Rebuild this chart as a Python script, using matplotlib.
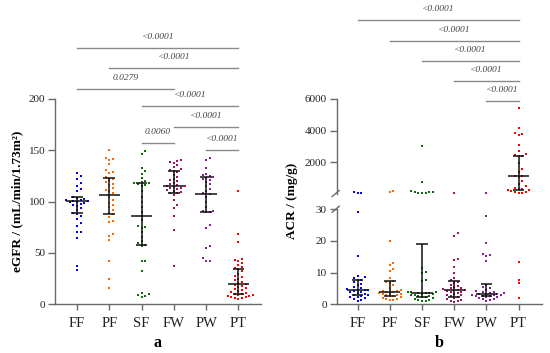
import numpy as np
import matplotlib
matplotlib.use('Agg')
import matplotlib.pyplot as plt
from matplotlib.lines import Line2D

plt.rcParams['font.family'] = ['Liberation Serif', 'DejaVu Serif']

groups = ['FF', 'PF', 'SF', 'FW', 'PW', 'PT']
colors = ['#0000ff', '#ff6a00', '#0a6e0a', '#a3135c', '#8a1c9a', '#ff0000']

# eGFR values per group
egfr_ff = [128, 125, 122, 118, 115, 112, 110, 105, 104, 103, 102, 102, 101, 101, 100, 100, 99, 98, 97, 96,
           94, 92, 89, 88, 86, 83, 79, 76, 70, 70, 65, 37, 33]
egfr_pf = [150, 143, 142, 141, 137, 131, 129, 128, 124, 122, 121, 119, 117, 116, 113, 111, 110, 108, 105, 102,
           99, 97, 95, 92, 89, 88, 85, 81, 80, 68, 67, 63, 42, 25, 16]
egfr_sf = [149, 146, 133, 130, 127, 123, 120, 119, 118, 118, 117, 116, 115, 110, 105, 100, 95, 90, 86, 82,
           76, 75, 74, 70, 66, 62, 60, 58, 57, 42, 42, 32, 11, 10, 9, 8, 7]
egfr_fw = [141, 140, 139, 138, 136, 134, 132, 131, 130, 129, 126, 124, 122, 121, 120, 118, 117, 116, 115, 115,
           114, 113, 113, 112, 111, 110, 109, 108, 108, 106, 102, 97, 94, 86, 72, 37]
egfr_pw = [143, 141, 133, 127, 126, 125, 124, 123, 122, 121, 119, 117, 115, 112, 110, 108, 107, 105, 100, 95,
           91, 91, 90, 90, 77, 74, 57, 55, 45, 42, 42]
egfr_pt = [110, 68, 61, 44, 43, 42, 40, 38, 36, 35, 34, 32, 30, 28, 27, 25, 24, 22, 21, 20,
           19, 18, 17, 16, 15, 14, 13, 12, 11, 10, 10, 9, 9, 8, 8, 7, 7, 6, 6, 5]
egfr_med = [101, 106, 86, 115.5, 107, 19.5]
egfr_q1 = [89, 88, 58, 108, 90, 10]
egfr_q3 = [105, 123, 118, 130, 124, 34.5]

# ACR values per group
acr_ff = [100, 85, 70, 29, 15.3, 8.8, 8.5, 8.2, 7.8, 7.6, 7, 6.5, 6, 5.5, 5, 4.8, 4.6, 4.5, 4.4, 4.2,
          4, 3.8, 3.5, 3.2, 3, 2.8, 2.6, 2.4, 2.2, 2, 1.8, 1.5, 1.2]
acr_pf = [200, 150, 20, 13, 12.3, 11.3, 10.5, 8.2, 7.5, 7, 6.6, 6, 5, 4.6, 4.3, 4.1, 3.9, 3.8, 3.7, 3.6,
          3.4, 3.2, 3, 2.8, 2.7, 2.5, 2.3, 2, 1.8, 1.6, 1.4, 1.3]
acr_sf = [3050, 770, 200, 130, 110, 100, 90, 80, 70, 11.4, 10.3, 10, 7.7, 7.5, 4, 3.9, 3.8, 3.7, 3.6, 3.5,
          3.4, 3.2, 3, 2.8, 2.6, 2.5, 2.4, 2.2, 2, 1.8, 1.5, 1.3, 1.1, 1.0]
acr_fw = [75, 22.4, 21.5, 14.3, 14, 11.7, 9.8, 8.2, 7.6, 7, 6.6, 6.2, 5.8, 5.5, 5.2, 5, 4.8, 4.6, 4.5, 4.4,
          4.2, 4, 3.8, 3.5, 3.2, 3, 2.8, 2.5, 2.3, 2, 1.8, 1.5, 1.2, 1, 0.8]
acr_pw = [45, 28, 19.5, 16, 15.5, 15.2, 13.8, 6.2, 5.6, 5, 4.6, 4.2, 4, 3.8, 3.6, 3.5, 3.4, 3.3, 3.2, 3,
          2.9, 2.8, 2.7, 2.6, 2.5, 2.3, 2.2, 2, 1.8, 1.6, 1.4, 1.2]
acr_pt = [5400, 4150, 3850, 3780, 3720, 3100, 2700, 2550, 2450, 2420, 2380, 1950, 1550, 1400, 1150, 1120,
          1080, 800, 650, 480, 360, 330, 300, 260, 220, 180, 140, 100, 70, 50, 13.4, 7.7, 6.6, 1.9]
acr_med = [4.5, 3.8, 3.6, 4.5, 3.4, 1120]
acr_q1 = [2.8, 2.7, 2.4, 2.3, 2.5, 220]
acr_q3 = [7.7, 7.3, 18.9, 7.5, 6.3, 2420]

# significance comparisons: (group i, group j, p text)
egfr_pairs = [(0, 5, '<0.0001'), (1, 5, '<0.0001'), (0, 3, '0.0279'), (2, 5, '<0.0001'),
              (3, 5, '<0.0001'), (2, 3, '0.0060'), (4, 5, '<0.0001')]
egfr_bar_y = [250, 230, 210, 193, 173, 157, 150]
acr_pairs = [(0, 5, '<0.0001'), (1, 5, '<0.0001'), (2, 5, '<0.0001'), (3, 5, '<0.0001'), (4, 5, '<0.0001')]
acr_bar_y = [10990, 9690, 8420, 7140, 5860]

egfr = [egfr_ff, egfr_pf, egfr_sf, egfr_fw, egfr_pw, egfr_pt]
acr = [acr_ff, acr_pf, acr_sf, acr_fw, acr_pw, acr_pt]

W, H = 550, 353
fig = plt.figure(figsize=(W / 100, H / 100), dpi=100)
axis_grey = '#6a6a6a'
BREAK = 30


def style(ax, ysize=8):
    for s in ['top', 'right']:
        ax.spines[s].set_visible(False)
    for s in ['left', 'bottom']:
        ax.spines[s].set_color(axis_grey)
        ax.spines[s].set_linewidth(1.0)
    ax.tick_params(axis='y', length=5, width=1.0, color=axis_grey, labelsize=ysize, pad=2, labelcolor='#222')
    ax.tick_params(axis='x', length=4, width=1.0, color=axis_grey, labelsize=10.5, pad=5, labelcolor='#222')


def swarm(ax, x0, vals, color, size=3.6):
    # deterministic beeswarm in pixel space
    vals = np.asarray(vals, float)
    if len(vals) == 0:
        return
    disp = ax.transData.transform(np.column_stack([np.full(len(vals), x0), vals]))
    inv = ax.transData.inverted()
    offsets = [0.0] + [sg * k * size for k in range(1, 30) for sg in (1, -1)]
    placed = []
    xs = np.zeros(len(vals))
    for i in np.argsort(vals):
        px, py = disp[i]
        for off in offsets:
            if all((px + off - qx) ** 2 + (py - qy) ** 2 >= size ** 2 * 0.9 for qx, qy in placed):
                break
        placed.append((px + off, py))
        xs[i] = inv.transform((px + off, py))[0]
    ax.scatter(xs, vals, s=4, marker='s', color=color, linewidths=0, zorder=3, clip_on=False)


def med_iqr(ax, x, med, q1, q3):
    k = '#111111'
    ax.hlines(med, x - 0.33, x + 0.33, color=k, lw=1.1, zorder=4)
    ax.hlines([q1, q3], x - 0.18, x + 0.18, color=k, lw=1.1, zorder=4)
    ax.vlines(x, q1, q3, color=k, lw=1.1, zorder=4)


def sig(ax, pairs, ys):
    for (i, j, txt), y in zip(pairs, ys):
        ax.plot([i, j], [y, y], color='#8a8a8a', lw=1.0, clip_on=False)
        ax.annotate(txt, xy=((i + j) / 2, y), xytext=(0, 7.8), textcoords='offset points',
                    ha='center', va='center', fontsize=6.8, style='italic', color='#444',
                    annotation_clip=False)


# ---- panel a ----
axa = fig.add_axes([55 / W, 1 - 304.3 / H, 206 / W, 205.3 / H])
axa.set_xlim(-0.68, 5.7)
axa.set_ylim(0, 200)
axa.set_yticks([0, 50, 100, 150, 200])
axa.set_xticks(range(6))
axa.set_xticklabels(groups)
style(axa)
for i in range(6):
    swarm(axa, i, egfr[i], colors[i])
    med_iqr(axa, i, egfr_med[i], egfr_q1[i], egfr_q3[i])
sig(axa, egfr_pairs, egfr_bar_y)

# ---- panel b: broken axis ----
x_left = 336.7 / W
wid = 205 / W
axl = fig.add_axes([x_left, 1 - 304.3 / H, wid, (304.3 - 209.3) / H])
axu = fig.add_axes([x_left, 1 - 193.5 / H, wid, (193.5 - 99) / H])
for ax in (axl, axu):
    ax.set_xlim(-0.65, 5.72)
    style(ax)
axl.set_ylim(0, BREAK)
axl.set_yticks([0, 10, 20, 30])
axl.set_xticks(range(6))
axl.set_xticklabels(groups)
axu.set_ylim(BREAK, 6000)
axu.set_yticks([2000, 4000, 6000])
axu.spines['bottom'].set_visible(False)
axu.tick_params(axis='x', bottom=False, labelbottom=False)
axu.patch.set_alpha(0)
axl.patch.set_alpha(0)

for i in range(6):
    v = np.asarray(acr[i], float)
    swarm(axl, i, v[v <= BREAK], colors[i])
    swarm(axu, i, v[v > BREAK], colors[i])
    m, a, b = acr_med[i], acr_q1[i], acr_q3[i]
    if b <= BREAK:
        med_iqr(axl, i, m, a, b)
    else:
        med_iqr(axu, i, m, a, b)
sig(axu, acr_pairs, acr_bar_y)

# break marks on the y axis
for yy in (1 - 209.3 / H, 1 - 193.5 / H):
    fig.add_artist(Line2D([x_left - 4.5 / W, x_left + 2.5 / W], [yy - 3 / H, yy + 3 / H],
                          color=axis_grey, lw=1.0))

# labels
fig.text(17 / W, 1 - 201 / H, 'eGFR / (mL/min/1.73m²)', rotation=90, ha='center', va='center',
         fontsize=9.5, fontweight='bold')
fig.text(292 / W, 1 - 201 / H, 'ACR / (mg/g)', rotation=90, ha='center', va='center',
         fontsize=9.5, fontweight='bold')
fig.text(157 / W, 1 - 343 / H, 'a', ha='center', va='center', fontsize=11.5, fontweight='bold')
fig.text(439 / W, 1 - 343 / H, 'b', ha='center', va='center', fontsize=11.5, fontweight='bold')

fig.savefig('out.png', dpi=100)
